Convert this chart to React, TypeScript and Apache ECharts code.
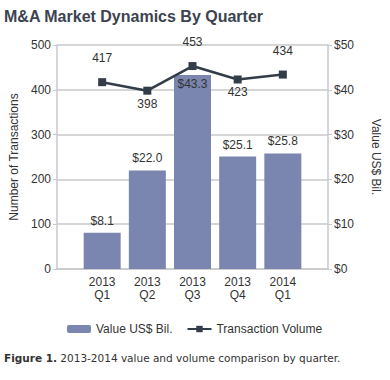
import React, { useEffect, useRef } from "react";
import * as echarts from "echarts";

const categories = ["", "2013\nQ1", "2013\nQ2", "2013\nQ3", "2013\nQ4", "2014\nQ1", ""];
const valueBil = [null, 8.1, 22.0, 43.3, 25.1, 25.8, null];
const transactions = [null, 417, 398, 453, 423, 434, null];
const lineLabelPos = ["top", "top", "bottom", "top", "bottom", "top", "top"];
const leftTicks = [0, 500, 100];
const rightTicks = [0, 50, 10];

const FONT = "Liberation Sans";
const CAP_FONT = "DejaVu Sans";
const TXT = "#333";
const GRID = "#c9c9cc";

export default function App() {
  const ref = useRef<HTMLDivElement>(null);
  useEffect(() => {
    const chart = echarts.init(ref.current!, null, { renderer: "svg" });
    chart.setOption({
      animation: false,
      textStyle: { fontFamily: FONT },
      title: {
        text: "M&A Market Dynamics By Quarter",
        left: 4,
        top: 8,
        padding: 0,
        textStyle: { fontSize: 16, fontWeight: "bold", color: "#3b4350", fontFamily: FONT },
      },
      grid: { left: 53, right: 57, top: 45, bottom: 111 },
      legend: {
        top: 318,
        left: 62,
        itemWidth: 24,
        itemHeight: 8,
        itemGap: 14,
        textStyle: { fontSize: 12, color: TXT, fontFamily: FONT },
        data: ["Value US$ Bil.", "Transaction Volume"],
      },
      xAxis: {
        type: "category",
        data: categories,
        boundaryGap: false,
        axisLine: { lineStyle: { color: GRID, width: 1.5 } },
        axisTick: { show: false },
        axisLabel: { color: TXT, fontSize: 12, lineHeight: 13, margin: 6, interval: 0, fontFamily: FONT },
      },
      yAxis: [
        {
          type: "value",
          min: leftTicks[0],
          max: leftTicks[1],
          interval: leftTicks[2],
          name: "Number of Transactions",
          nameLocation: "middle",
          nameGap: 37,
          nameTextStyle: { color: TXT, fontSize: 12, fontFamily: FONT },
          axisLine: { show: true, lineStyle: { color: GRID, width: 1.5 } },
          axisTick: { show: true, length: 4, lineStyle: { color: GRID } },
          axisLabel: { color: TXT, fontSize: 12, margin: 6, fontFamily: FONT },
          splitLine: { lineStyle: { color: GRID, width: 1.5 } },
        },
        {
          type: "value",
          min: rightTicks[0],
          max: rightTicks[1],
          interval: rightTicks[2],
          name: "Value US$ Bil.",
          nameLocation: "middle",
          nameRotate: -90,
          nameGap: 42,
          nameTextStyle: { color: TXT, fontSize: 12, fontFamily: FONT },
          axisLine: { show: true, lineStyle: { color: GRID, width: 1.5 } },
          axisTick: { show: true, length: 4, lineStyle: { color: GRID } },
          axisLabel: { color: TXT, fontSize: 12, margin: 6, fontFamily: FONT, formatter: (v: number) => "$" + v },
          splitLine: { show: false },
        },
      ],
      series: [
        {
          name: "Value US$ Bil.",
          type: "bar",
          yAxisIndex: 1,
          barWidth: 37,
          itemStyle: { color: "#7a86b0" },
          data: valueBil.map((v) =>
            v === 43.3
              ? { value: v, label: { position: "insideTop", distance: 3 } }
              : v
          ),
          label: {
            show: true,
            position: "top",
            distance: 6,
            color: TXT,
            fontSize: 12,
            fontFamily: FONT,
            formatter: (p: any) => "$" + Number(p.value).toFixed(1),
          },
        },
        {
          name: "Transaction Volume",
          type: "line",
          yAxisIndex: 0,
          symbol: "rect",
          symbolSize: 8,
          lineStyle: { color: "#333d4a", width: 2.5 },
          itemStyle: { color: "#333d4a" },
          data: transactions.map((v, i) => ({
            value: v,
            label: { position: lineLabelPos[i], distance: lineLabelPos[i] === "top" ? 14 : 3 },
          })),
          label: { show: true, color: TXT, fontSize: 12, fontFamily: FONT },
        },
      ],
      graphic: [
        {
          type: "text",
          x: 4,
          y: 358,
          style: {
            text: "{b|Figure 1.} 2013-2014 value and volume comparison by quarter.",
            align: "left",
            verticalAlign: "middle",
            rich: {
              b: { fontWeight: "bold", fontSize: 10.5, fontFamily: CAP_FONT, fill: "#333" },
            },
            fontSize: 10.5,
            fontFamily: CAP_FONT,
            fill: "#333",
          },
        },
      ],
    });
    return () => chart.dispose();
  }, []);
  return (
    <div
      ref={ref}
      style={{ position: "absolute", left: 0, top: 0, width: 390, height: 380 }}
    />
  );
}
